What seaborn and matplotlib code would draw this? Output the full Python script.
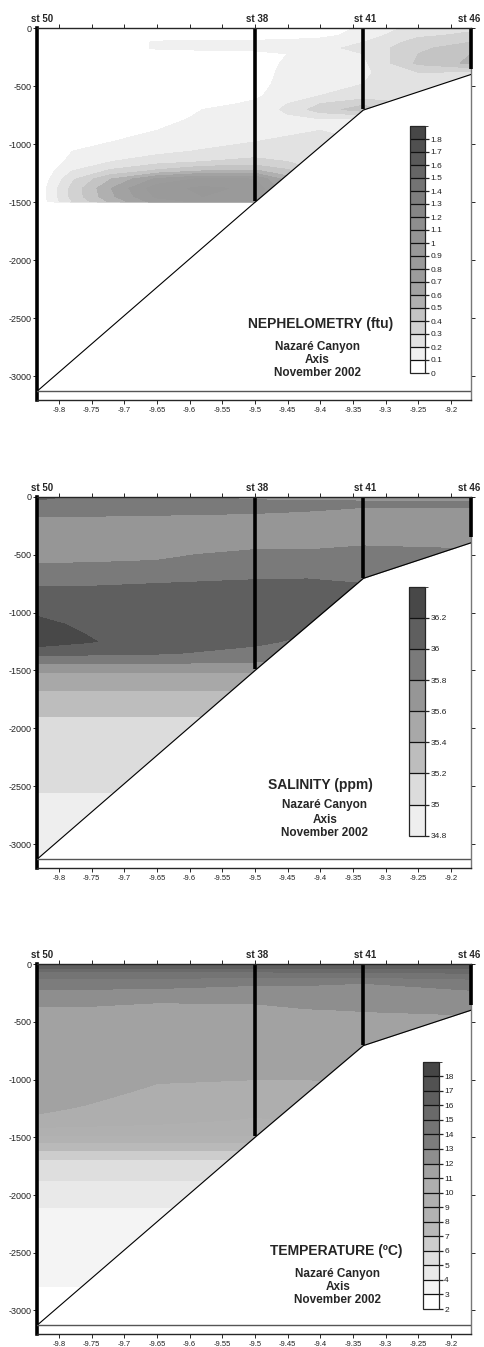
import numpy as np
import matplotlib
matplotlib.use("Agg")
import matplotlib.pyplot as plt
import seaborn as sns
from matplotlib.colors import ListedColormap, BoundaryNorm
from matplotlib.ticker import FuncFormatter

# --- stations along the canyon axis ---
station_names = ["st 50", "st 38", "st 41", "st 46"]
station_lon = [-9.834, -9.5, -9.334, -9.169]
station_cast = [-3130, -1490, -700, -350]
bottom_lon = [-9.834, -9.5, -9.334, -9.169]
bottom_depth = [-3130, -1500, -705, -398]
sea_floor = -3130

x_ticks = [-9.8, -9.75, -9.7, -9.65, -9.6, -9.55, -9.5, -9.45, -9.4, -9.35, -9.3, -9.25, -9.2]
y_ticks = [0, -500, -1000, -1500, -2000, -2500, -3000]

# --- nephelometry (ftu) ---
neph_lon = [-9.834, -9.815, -9.78, -9.72, -9.65, -9.58, -9.5, -9.45, -9.40, -9.334, -9.25, -9.169]
neph_depth = [0, -60, -120, -170, -220, -300, -380, -480, -580, -650, -700, -780, -880,
              -980, -1060, -1150, -1230, -1300, -1380, -1450, -1495, -1505, -3250]
neph_values = [
    [0, 0, 0, 0, 0, 0, 0, 0, 0.04, 0.12, 0.24, 0.28],
    [0, 0, 0, 0, 0, 0, 0, 0.02, 0.06, 0.15, 0.28, 0.32],
    [0, 0, 0, 0, 0.12, 0.13, 0.14, 0.15, 0.16, 0.20, 0.34, 0.40],
    [0, 0, 0, 0, 0.12, 0.13, 0.14, 0.15, 0.18, 0.22, 0.38, 0.45],
    [0, 0, 0, 0, 0.02, 0.05, 0.06, 0.10, 0.14, 0.20, 0.40, 0.50],
    [0, 0, 0, 0, 0, 0, 0.04, 0.12, 0.15, 0.18, 0.42, 0.52],
    [0, 0, 0, 0, 0, 0, 0.05, 0.13, 0.15, 0.18, 0.30, 0.28],
    [0, 0, 0, 0, 0, 0, 0.06, 0.14, 0.16, 0.20, 0.25, 0.25],
    [0, 0, 0, 0, 0, 0.03, 0.08, 0.16, 0.20, 0.24, 0.25, 0.25],
    [0, 0, 0, 0, 0, 0.06, 0.12, 0.20, 0.30, 0.38, 0.30, 0.25],
    [0, 0, 0, 0, 0.04, 0.10, 0.14, 0.22, 0.35, 0.45, 0.30, 0.25],
    [0, 0, 0, 0, 0.06, 0.12, 0.15, 0.18, 0.20, 0.20, 0.20, 0.20],
    [0, 0, 0, 0.04, 0.10, 0.14, 0.16, 0.18, 0.20, 0.20, 0.20, 0.20],
    [0, 0, 0, 0.10, 0.13, 0.16, 0.20, 0.22, 0.22, 0.20, 0.20, 0.20],
    [0, 0, 0.10, 0.14, 0.17, 0.21, 0.25, 0.26, 0.25, 0.20, 0.20, 0.20],
    [0, 0.03, 0.14, 0.20, 0.26, 0.30, 0.33, 0.30, 0.28, 0.20, 0.20, 0.20],
    [0, 0.07, 0.20, 0.32, 0.42, 0.50, 0.52, 0.42, 0.30, 0.20, 0.20, 0.20],
    [0, 0.10, 0.28, 0.50, 0.72, 0.82, 0.80, 0.55, 0.30, 0.20, 0.20, 0.20],
    [0, 0.13, 0.33, 0.60, 0.86, 0.92, 0.88, 0.60, 0.30, 0.20, 0.20, 0.20],
    [0, 0.13, 0.33, 0.58, 0.82, 0.90, 0.86, 0.60, 0.30, 0.20, 0.20, 0.20],
    [0, 0.12, 0.30, 0.52, 0.75, 0.82, 0.80, 0.55, 0.30, 0.20, 0.20, 0.20],
    [0, 0, 0, 0, 0, 0, 0, 0, 0, 0, 0, 0],
    [0, 0, 0, 0, 0, 0, 0, 0, 0, 0, 0, 0],
]
neph_levels = [0, 0.1, 0.2, 0.3, 0.4, 0.5, 0.6, 0.7, 0.8, 0.9, 1.0,
               1.1, 1.2, 1.3, 1.4, 1.5, 1.6, 1.7, 1.8, 1.9]
neph_colors = ['#ffffff', '#f0f0f0', '#e2e2e2', '#d2d2d2', '#c4c4c4', '#b0b0b0', '#a2a2a2',
               '#9c9c9c', '#9a9a9a', '#989898', '#949494', '#8e8e8e', '#868686', '#7e7e7e',
               '#747474', '#666666', '#5a5a5a', '#505050', '#474747']

# --- salinity ---
sal_lon = [-9.834, -9.76, -9.65, -9.5, -9.42, -9.334, -9.169]
sal_depth = [0, -20, -50, -100, -150, -200, -400, -500, -600, -700, -750, -850, -1000,
             -1100, -1250, -1350, -1400, -1480, -1560, -1700, -1850, -1950, -2500, -2600, -3250]
sal_values = [
    [36.10, 35.92, 35.90, 35.74, 35.72, 35.72, 35.72],
    [36.02, 35.92, 35.90, 35.78, 35.76, 35.74, 35.74],
    [35.90, 35.90, 35.90, 35.86, 35.86, 35.84, 35.84],
    [35.88, 35.88, 35.88, 35.88, 35.84, 35.79, 35.79],
    [35.84, 35.85, 35.82, 35.79, 35.76, 35.74, 35.74],
    [35.72, 35.72, 35.72, 35.72, 35.72, 35.72, 35.72],
    [35.70, 35.70, 35.70, 35.72, 35.74, 35.78, 35.76],
    [35.74, 35.75, 35.76, 35.86, 35.84, 35.86, 35.84],
    [35.82, 35.82, 35.84, 35.92, 35.92, 35.92, 35.90],
    [35.92, 35.92, 35.94, 35.98, 35.99, 35.96, 35.94],
    [35.98, 35.98, 36.00, 36.04, 36.04, 36.00, 35.98],
    [36.06, 36.06, 36.08, 36.08, 36.08, 36.04, 36.02],
    [36.18, 36.14, 36.12, 36.10, 36.10, 36.06, 36.04],
    [36.24, 36.17, 36.14, 36.10, 36.06, 36.04, 36.02],
    [36.28, 36.22, 36.10, 36.04, 35.96, 35.96, 35.96],
    [36.10, 36.05, 36.02, 35.94, 35.90, 35.90, 35.90],
    [35.90, 35.90, 35.90, 35.85, 35.85, 35.85, 35.85],
    [35.70, 35.70, 35.70, 35.70, 35.70, 35.70, 35.70],
    [35.50, 35.50, 35.50, 35.50, 35.50, 35.50, 35.50],
    [35.38, 35.38, 35.38, 35.38, 35.38, 35.38, 35.38],
    [35.30, 35.30, 35.30, 35.30, 35.30, 35.30, 35.30],
    [35.10, 35.10, 35.10, 35.10, 35.10, 35.10, 35.10],
    [35.03, 35.03, 35.03, 35.03, 35.03, 35.03, 35.03],
    [34.98, 34.98, 34.98, 34.98, 34.98, 34.98, 34.98],
    [34.92, 34.92, 34.92, 34.92, 34.92, 34.92, 34.92],
]
sal_levels = [34.8, 35.0, 35.2, 35.4, 35.6, 35.8, 36.0, 36.2, 36.4]
sal_colors = ['#eeeeee', '#dcdcdc', '#bdbdbd', '#a8a8a8', '#969696', '#7a7a7a', '#5f5f5f', '#484848']

# --- temperature ---
temp_lon = [-9.834, -9.76, -9.65, -9.5, -9.42, -9.334, -9.169]
temp_depth = [0, -30, -60, -90, -150, -250, -300, -400, -600, -900, -1100, -1250, -1350,
              -1450, -1520, -1580, -1650, -1750, -1950, -2050, -2200, -2700, -2900, -3250]
temp_values = [
    [16.5, 16.5, 16.5, 16.5, 16.5, 16.5, 16.5],
    [16.1, 16.1, 16.1, 16.1, 16.1, 16.1, 16.2],
    [15.1, 15.1, 15.1, 15.1, 15.2, 15.2, 15.4],
    [14.5, 14.5, 14.5, 14.5, 14.6, 14.6, 14.7],
    [13.6, 13.6, 13.6, 13.2, 13.2, 13.05, 13.6],
    [12.7, 12.7, 12.6, 12.6, 12.6, 12.7, 12.8],
    [12.4, 12.4, 12.1, 12.15, 12.3, 12.5, 12.5],
    [11.8, 11.8, 11.8, 11.8, 11.95, 12.02, 12.1],
    [11.5, 11.5, 11.5, 11.5, 11.5, 11.6, 11.6],
    [11.3, 11.3, 11.2, 11.15, 11.15, 11.2, 11.2],
    [11.2, 11.2, 10.9, 10.85, 10.85, 10.9, 10.9],
    [11.1, 10.95, 10.6, 10.3, 10.4, 10.5, 10.5],
    [10.9, 10.6, 10.3, 9.9, 10.1, 10.2, 10.2],
    [9.5, 9.5, 9.5, 9.5, 9.5, 9.5, 9.5],
    [8.5, 8.5, 8.5, 8.5, 8.5, 8.5, 8.5],
    [7.5, 7.5, 7.5, 7.5, 7.5, 7.5, 7.5],
    [6.5, 6.5, 6.5, 6.5, 6.5, 6.5, 6.5],
    [5.5, 5.5, 5.5, 5.5, 5.5, 5.5, 5.5],
    [4.7, 4.7, 4.7, 4.7, 4.7, 4.7, 4.7],
    [4.2, 4.2, 4.2, 4.2, 4.2, 4.2, 4.2],
    [3.7, 3.7, 3.7, 3.7, 3.7, 3.7, 3.7],
    [3.1, 3.1, 3.1, 3.1, 3.1, 3.1, 3.1],
    [2.9, 2.9, 2.9, 2.9, 2.9, 2.9, 2.9],
    [2.6, 2.6, 2.6, 2.6, 2.6, 2.6, 2.6],
]
temp_levels = [2, 3, 4, 5, 6, 7, 8, 9, 10, 11, 12, 13, 14, 15, 16, 17, 18, 19]
temp_colors = ['#ffffff', '#f4f4f4', '#e9e9e9', '#dedede', '#cdcdcd', '#b9b9b9', '#b2b2b2',
               '#b0b0b0', '#aeaeae', '#a2a2a2', '#8e8e8e', '#7c7c7c', '#747474', '#6a6a6a',
               '#5e5e5e', '#525252', '#464646']

subtitle_lines = ["Nazaré Canyon", "Axis", "November 2002"]

sns.set_style("ticks")
plt.rcParams['font.family'] = ['Liberation Sans', 'DejaVu Sans']

W, H = 485, 1347
fig = plt.figure(figsize=(W / 100, H / 100), dpi=100)


def px_axes(x0, y0, x1, y1):
    return fig.add_axes([x0 / W, 1 - y1 / H, (x1 - x0) / W, (y1 - y0) / H])


fmt = FuncFormatter(lambda v, p: f"{v:g}")


def draw_section(ax, cax, lon, depth, values, levels, colors, title, title_pos, sub_pos):
    cmap = ListedColormap(colors)
    norm = BoundaryNorm(levels, cmap.N)
    cs = ax.contourf(lon, depth, np.array(values), levels=levels, cmap=cmap, norm=norm, zorder=1)

    # blank out the sea bed
    ax.fill_between(bottom_lon, bottom_depth, -3400, color='white', lw=0, zorder=2)
    ax.fill_between([-9.9, -9.1], sea_floor, -3400, color='white', lw=0, zorder=2)
    sns.lineplot(x=bottom_lon, y=bottom_depth, ax=ax, color='black', linewidth=0.8,
                 sort=False, estimator=None, zorder=3)
    ax.axhline(sea_floor, color='#555555', lw=1.0, zorder=3)
    ax.vlines(station_lon[1:], station_cast[1:], 0, color='black', lw=2.6, zorder=4,
              clip_on=False)

    for name, x, dx in zip(station_names, station_lon, [3.5, 1.5, 1.0, -1.5]):
        ax.annotate(name, xy=(x, 1), xycoords=ax.get_xaxis_transform(), xytext=(dx, 3),
                    textcoords='offset points', ha='center', va='bottom',
                    fontsize=7, fontweight='bold')

    ax.text(title_pos[0], title_pos[1], title, ha='center', va='center',
            fontsize=10, fontweight='bold', zorder=5)
    for line, y in zip(subtitle_lines, sub_pos[1]):
        ax.text(sub_pos[0], y, line, ha='center', va='center',
                fontsize=8.5, fontweight='bold', zorder=5)

    ax.set_xlim(-9.834, -9.169)
    ax.set_ylim(-3205, 0)
    ax.set_xticks(x_ticks)
    ax.set_yticks(y_ticks)
    ax.xaxis.set_major_formatter(fmt)
    ax.yaxis.set_major_formatter(fmt)
    ax.tick_params(axis='both', direction='out', length=3, width=0.7,
                   pad=2, top=True, right=True, labeltop=False, labelright=False,
                   labelcolor='#222222')
    ax.tick_params(axis='x', labelsize=5.5)
    ax.tick_params(axis='y', labelsize=6.5, pad=1)
    ax.spines['left'].set_linewidth(2.6)
    ax.spines['left'].set_color('black')
    ax.spines['right'].set_color('#777777')
    ax.spines['right'].set_linewidth(1.0)
    ax.spines['top'].set_linewidth(1.0)
    ax.spines['bottom'].set_linewidth(1.0)
    ax.spines['top'].set_zorder(6)
    ax.set_xlabel('')
    ax.set_ylabel('')

    cb = fig.colorbar(cs, cax=cax, ticks=levels[:-1], drawedges=True, format=fmt)
    cb.outline.set_linewidth(0.9)
    cb.dividers.set_linewidth(0.9)
    cb.dividers.set_color('#111111')
    cax.tick_params(labelsize=6, length=3, width=0.9, pad=1, direction='out',
                    labelcolor='#222222')


ax1 = px_axes(37, 28.3, 471, 400)
cax1 = px_axes(410, 126, 425, 373)
draw_section(ax1, cax1, neph_lon, neph_depth, neph_values, neph_levels, neph_colors,
             "NEPHELOMETRY (ftu)", (-9.40, -2547), (-9.404, [-2745, -2857, -2969]))

ax2 = px_axes(37, 496.7, 471, 868)
cax2 = px_axes(409, 586.7, 425, 835.7)
draw_section(ax2, cax2, sal_lon, sal_depth, sal_values, sal_levels, sal_colors,
             "SALINITY (ppm)", (-9.399, -2492), (-9.393, [-2665, -2787, -2900]))

ax3 = px_axes(37, 964.3, 471, 1334)
cax3 = px_axes(422.7, 1061.7, 438.7, 1309)
draw_section(ax3, cax3, temp_lon, temp_depth, temp_values, temp_levels, temp_colors,
             "TEMPERATURE (ºC)", (-9.375, -2488), (-9.373, [-2681, -2794, -2906]))

fig.savefig("out.png", dpi=100)
plt.close(fig)
